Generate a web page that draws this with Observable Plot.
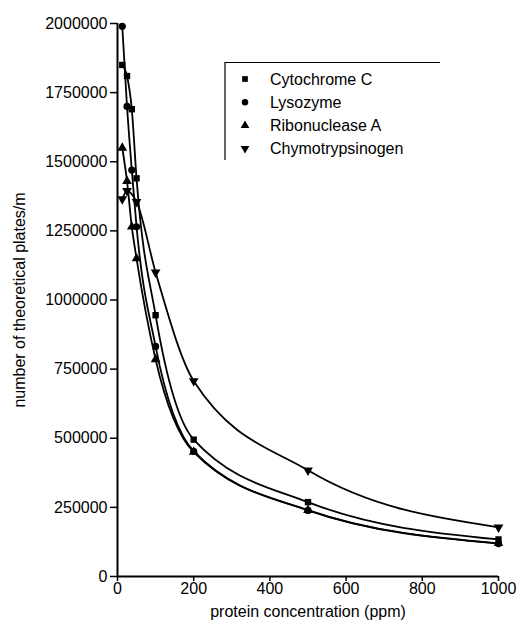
<!DOCTYPE html>
<html>
<head>
<meta charset="utf-8">
<script src="https://cdn.jsdelivr.net/npm/d3@7"></script>
<script src="https://cdn.jsdelivr.net/npm/@observablehq/plot@0.6"></script>
<style>
  html, body { margin: 0; padding: 0; background: #fff; }
  #chart { width: 518px; height: 629px; }
</style>
</head>
<body>
<div id="chart"></div>
<script>
// ---- data ----
const seriesNames = ["Cytochrome C", "Lysozyme", "Ribonuclease A", "Chymotrypsinogen"];
const concentration = [12.5, 25, 37.5, 50, 100, 200, 500, 1000];
const cytochromeC = [1850000, 1810000, 1690000, 1440000, 945000, 495000, 269000, 134000];
const lysozyme = [1990000, 1700000, 1470000, 1265000, 832000, 453000, 239000, 119000];
const ribonucleaseA = [1550000, 1430000, 1265000, 1150000, 785000, 450000, 240000, 120000];
const chymoConcentration = [12.5, 25, 50, 100, 200, 500, 1000];
const chymotrypsinogen = [1365000, 1395000, 1355000, 1100000, 707000, 384000, 178000];
const xTicks = [0, 200, 400, 600, 800, 1000];
const yTicks = [0, 250000, 500000, 750000, 1000000, 1250000, 1500000, 1750000, 2000000];
const symbols = ["square", "circle", "triangle", "triangle"];
const rotations = [0, 0, 0, 180];

const rows = [];
function addSeries(name, xs, ys) { xs.forEach((x, i) => rows.push({series: name, conc: x, value: ys[i]})); }
addSeries(seriesNames[0], concentration, cytochromeC);
addSeries(seriesNames[1], concentration, lysozyme);
addSeries(seriesNames[2], concentration, ribonucleaseA);
addSeries(seriesNames[3], chymoConcentration, chymotrypsinogen);

const font = "'Liberation Sans', Arial, Helvetica, sans-serif";
const R = 3.6;

const svg = Plot.plot({
  width: 518,
  height: 629,
  marginLeft: 117,
  marginRight: 20,
  marginTop: 23,
  marginBottom: 53,
  style: {fontFamily: font, fontSize: "16px", color: "#000", background: "#fff", overflow: "visible"},
  x: {domain: [0, 1000]},
  y: {domain: [0, 2000000]},
  symbol: {domain: seriesNames, range: symbols},
  marks: [
    Plot.axisY({ticks: yTicks, tickSize: 7, tickPadding: 3, tickFormat: d => String(d), fontSize: 16,
      strokeWidth: 1.5, label: "number of theoretical plates/m", labelAnchor: "center", labelArrow: "none", labelOffset: 104}),
    Plot.axisX({ticks: xTicks, tickSize: 5, tickPadding: 1, tickFormat: d => String(d), fontSize: 16,
      strokeWidth: 1.5, label: "protein concentration (ppm)", labelAnchor: "center", labelArrow: "none", labelOffset: 40}),
    Plot.ruleX([0], {strokeWidth: 2}),
    Plot.ruleY([0], {strokeWidth: 2}),
    Plot.line(rows, {x: "conc", y: "value", z: "series", curve: "monotone-x", stroke: "#000", strokeWidth: 1.8}),
    Plot.dot(rows, {x: "conc", y: "value", symbol: "series", r: R, fill: "#000", stroke: "none",
      rotate: d => rotations[seriesNames.indexOf(d.series)]})
  ]
});
document.getElementById("chart").appendChild(svg);

// ---- legend ----
const s = d3.select(svg);
const lg = s.append("g").attr("font-family", font).attr("font-size", 16).attr("fill", "#000")
  .attr("text-anchor", "start");
lg.append("path").attr("d", "M225,160V62.5H440").attr("fill", "none").attr("stroke", "#000").attr("stroke-width", 1.2);
const symMap = {square: d3.symbolSquare, circle: d3.symbolCircle, triangle: d3.symbolTriangle};
seriesNames.forEach((name, i) => {
  const y = 79 + i * 23.2;
  lg.append("path")
    .attr("d", d3.symbol(symMap[symbols[i]], Math.PI * R * R * 0.8)())
    .attr("transform", `translate(245,${y}) rotate(${rotations[i]})`)
    .attr("fill", "#000");
  lg.append("text").attr("x", 270).attr("y", y).attr("dy", "0.36em").attr("text-anchor", "start").text(name);
});
</script>
</body>
</html>
